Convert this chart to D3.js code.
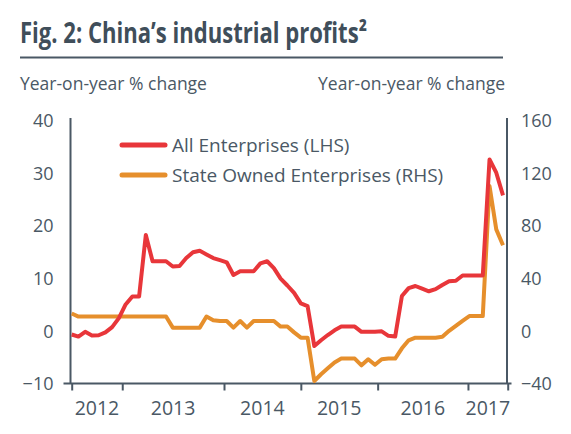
<!DOCTYPE html>
<html>
<head>
<meta charset="utf-8">
<script src="https://cdn.jsdelivr.net/npm/d3@7/dist/d3.min.js"></script>
<style>
  html, body { margin: 0; padding: 0; background: #ffffff; }
  svg { display: block; }
  text { font-family: "Open Sans", "Noto Sans", sans-serif; }
</style>
</head>
<body>
<svg id="chart" width="571" height="434"></svg>
<script>
// ---- Data ----
const titleText = "Fig. 2: China\u2019s industrial profits\u00B2";
const leftAxisTitle = "Year-on-year % change";
const rightAxisTitle = "Year-on-year % change";

// monthly observations, index 0 .. 64
const allEnterprises = [
  -0.7, -1.1, -0.2, -0.9, -0.85, -0.3, 0.7, 2.4, 5.0, 6.5,
  6.5, 18.2, 13.2, 13.2, 13.2, 12.2, 12.3, 13.8, 14.9, 15.2,
  14.5, 13.8, 13.4, 13.0, 10.6, 11.3, 11.3, 11.3, 12.8, 13.2,
  11.9, 9.9, 8.6, 7.2, 5.2, 4.7, -2.9, -1.8, -0.8, 0.1,
  0.8, 0.8, 0.8, -0.2, -0.2, -0.2, -0.1, -0.95, -1.1, 6.6,
  8.1, 8.5, 8.0, 7.5, 7.9, 8.7, 9.4, 9.5, 10.5, 10.5,
  10.5, 10.5, 32.5, 30.0, 25.7
];
const stateOwned = [
  13.1, 10.8, 10.8, 10.8, 10.8, 10.8, 10.8, 10.8, 10.8, 10.8,
  10.8, 10.8, 10.8, 10.8, 10.8, 2.4, 2.4, 2.4, 2.4, 2.4,
  10.8, 8.0, 7.4, 7.4, 2.4, 7.4, 2.4, 7.4, 7.4, 7.4,
  7.4, 3.2, 3.2, -1.2, -5.2, -5.2, -38.1, -33.0, -28.5, -24.0,
  -21.1, -21.1, -21.1, -26.2, -21.6, -25.8, -21.6, -21.1, -21.1, -13.3,
  -7.2, -5.2, -5.2, -5.2, -5.2, -4.6, 0.0, 3.8, 7.6, 11.2,
  11.2, 11.2, 109.9, 77.0, 65.0
];
// year labels and the (fractional) observation index of the tick marks between them
const yearLabels = ["2012", "2013", "2014", "2015", "2016", "2017"];
const yearTickIdx = [0, 7.5, 22.6, 34.0, 45.4, 58.8, 64.7];
const leftTicks = [-10, 0, 10, 20, 30, 40];
const rightTicks = [-40, 0, 40, 80, 120, 160];
const seriesNames = ["All Enterprises (LHS)", "State Owned Enterprises (RHS)"];

// ---- Styles ----
const INK = "#4a5865";
const RED = "#e8363a";
const ORANGE = "#e68f2c";

const svg = d3.select("#chart");

// Title
svg.append("text")
  .attr("x", 20).attr("y", 43)
  .attr("fill", "#404e5a")
  .attr("font-size", 28)
  .attr("font-weight", 700)
  .attr("textLength", 347)
  .attr("lengthAdjust", "spacingAndGlyphs")
  .text(titleText);

svg.append("line")
  .attr("x1", 20).attr("x2", 503)
  .attr("y1", 57.5).attr("y2", 57.5)
  .attr("stroke", INK).attr("stroke-width", 2);

svg.append("text")
  .attr("x", 20).attr("y", 90)
  .attr("fill", INK).attr("font-size", 17.5)
  .text(leftAxisTitle);
svg.append("text")
  .attr("x", 505).attr("y", 90)
  .attr("text-anchor", "end")
  .attr("fill", INK).attr("font-size", 17.5)
  .text(rightAxisTitle);

// Scales
const x = d3.scaleLinear().domain([0, allEnterprises.length - 1]).range([71.7, 503]);
const yL = d3.scaleLinear().domain([-10, 40]).range([383.5, 120]);
const yR = d3.scaleLinear().domain([-40, 160]).range([383.5, 120]);

// Left axis
const gL = svg.append("g").attr("transform", "translate(70.5,0)")
  .call(d3.axisLeft(yL).tickValues(leftTicks).tickSize(0).tickPadding(17).tickFormat(d3.format("d")));
gL.select(".domain").attr("stroke", INK).attr("stroke-width", 2).attr("d", "M0,118V383.5");
gL.selectAll("text").attr("fill", INK).attr("font-size", 18).attr("font-family", "Open Sans").attr("dy", "0.35em");

// Right axis
const gR = svg.append("g").attr("transform", "translate(507,0)")
  .call(d3.axisRight(yR).tickValues(rightTicks).tickSize(0).tickPadding(14).tickFormat(d3.format("d")));
gR.select(".domain").attr("stroke", INK).attr("stroke-width", 2).attr("d", "M0,118V383.5");
gR.selectAll("text").attr("fill", INK).attr("font-size", 18).attr("font-family", "Open Sans").attr("dy", "0.35em");

// Bottom axis: ticks at year boundaries, labels centred between them
const gB = svg.append("g").attr("transform", "translate(0,383.5)")
  .call(d3.axisBottom(x).tickValues(yearTickIdx).tickSize(7).tickFormat(""));
gB.select(".domain").attr("stroke", INK).attr("stroke-width", 2).attr("d", "M63.5,0H511.5");
gB.selectAll(".tick line").attr("stroke", INK).attr("stroke-width", 2);

svg.append("g").selectAll("text")
  .data(yearLabels)
  .join("text")
  .attr("x", (d, i) => (x(yearTickIdx[i]) + x(yearTickIdx[i + 1])) / 2)
  .attr("y", 415)
  .attr("text-anchor", "middle")
  .attr("fill", INK)
  .attr("font-size", 19.5)
  .text(d => d);

// Lines
const lineL = d3.line().x((d, i) => x(i)).y(d => yL(d)).curve(d3.curveLinear);
const lineR = d3.line().x((d, i) => x(i)).y(d => yR(d)).curve(d3.curveLinear);

svg.append("path").datum(stateOwned)
  .attr("d", lineR)
  .attr("fill", "none").attr("stroke", ORANGE).attr("stroke-width", 4)
  .attr("stroke-linejoin", "round");
svg.append("path").datum(allEnterprises)
  .attr("d", lineL)
  .attr("fill", "none").attr("stroke", RED).attr("stroke-width", 4)
  .attr("stroke-linejoin", "round");

// Legend
const legend = svg.append("g");
const legendColors = [RED, ORANGE];
const legendY = [145, 175];
seriesNames.forEach((name, i) => {
  legend.append("line")
    .attr("x1", 122).attr("x2", 165)
    .attr("y1", legendY[i]).attr("y2", legendY[i])
    .attr("stroke", legendColors[i]).attr("stroke-width", 5)
    .attr("stroke-linecap", "round");
  legend.append("text")
    .attr("x", 172).attr("y", legendY[i])
    .attr("dy", "0.35em")
    .attr("fill", INK).attr("font-size", 19)
    .text(name);
});
</script>
</body>
</html>
